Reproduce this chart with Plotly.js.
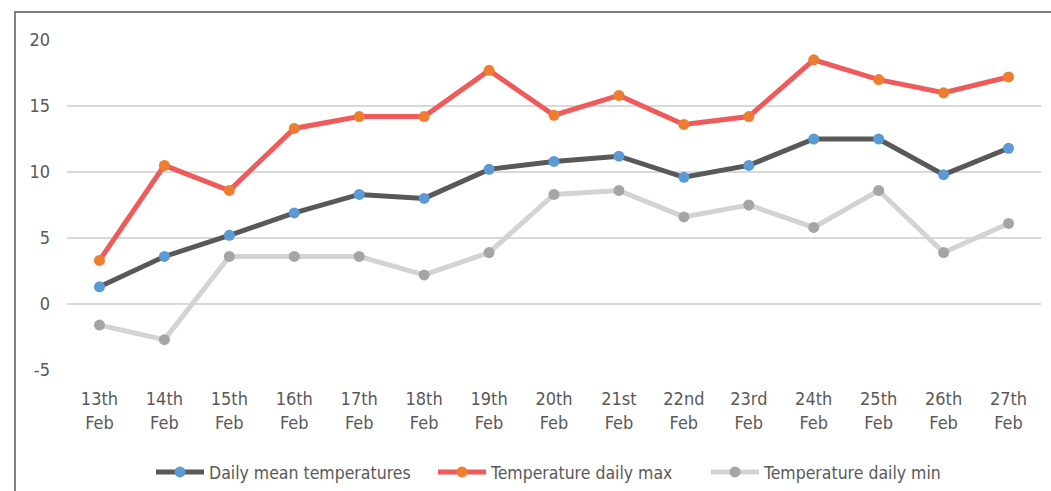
<!DOCTYPE html>
<html><head><meta charset="utf-8">
<script src="https://cdn.plot.ly/plotly-3.0.1.min.js"></script>
<style>
html,body{margin:0;padding:0;overflow:hidden;background:#fff;}
#frame{position:absolute;left:14px;top:11px;width:1200px;height:700px;border:2px solid #808080;box-sizing:border-box;}
#chart{position:absolute;left:0;top:0;width:1051px;height:491px;}
#chart text{font-stretch:condensed !important;}
</style></head>
<body>
<div id="frame"></div>
<div id="chart"></div>
<script>
const categories = ["13th<br>Feb","14th<br>Feb","15th<br>Feb","16th<br>Feb","17th<br>Feb","18th<br>Feb","19th<br>Feb","20th<br>Feb","21st<br>Feb","22nd<br>Feb","23rd<br>Feb","24th<br>Feb","25th<br>Feb","26th<br>Feb","27th<br>Feb"];
const meanTemps = [1.3, 3.6, 5.2, 6.9, 8.3, 8.0, 10.2, 10.8, 11.2, 9.6, 10.5, 12.5, 12.5, 9.8, 11.8];
const maxTemps  = [3.3, 10.5, 8.6, 13.3, 14.2, 14.2, 17.7, 14.3, 15.8, 13.6, 14.2, 18.5, 17.0, 16.0, 17.2];
const minTemps  = [-1.6, -2.7, 3.6, 3.6, 3.6, 2.2, 3.9, 8.3, 8.6, 6.6, 7.5, 5.8, 8.6, 3.9, 6.1];
const yTicks = [-5, 0, 5, 10, 15, 20];
const yTickLabels = ["-5", "0", "5", "10", "15", "20"];

const FONT = '"DejaVu Sans", sans-serif';
const FS = 18;
function tr(name, y, lc, mc, lg){
  return {type:'scatter', mode:'lines+markers', name:name, x:categories, y:y, legend:lg,
    line:{color:lc, width:5}, marker:{color:mc, size:11}};
}
const data = [
  tr('Daily mean temperatures', meanTemps, '#595959', '#5b9bd5', 'legend'),
  tr('Temperature daily max', maxTemps, '#ef5a5a', '#ed7d31', 'legend2'),
  tr('Temperature daily min', minTemps, '#d3d3d3', '#a5a5a5', 'legend3')
];
function lg(px){
  return {orientation:'h', x:px/1051, xref:'container', xanchor:'left', yref:'container', y:19/491, yanchor:'middle',
    font:{family:FONT, size:17.5, color:'#595959'}, itemwidth:48, bgcolor:'rgba(0,0,0,0)'};
}
const layout = {
  width:1051, height:491,
  margin:{l:67, r:10, t:40, b:121, autoexpand:false},
  paper_bgcolor:'rgba(0,0,0,0)', plot_bgcolor:'rgba(0,0,0,0)',
  font:{family:FONT, size:FS, color:'#595959'},
  showlegend:true,
  legend:lg(151), legend2:lg(433), legend3:lg(706),
  xaxis:{type:'category', range:[-0.5,14.5], showgrid:false, zeroline:false, showline:false,
    ticks:'', automargin:false, ticklabelstandoff:16, tickfont:{family:FONT, size:FS, color:'#595959'}},
  yaxis:{range:[-5,20], tickvals:yTicks, ticktext:yTickLabels, showgrid:true, gridcolor:'#d9d9d9', gridwidth:1.5,
    zeroline:false, showline:false, ticks:'', ticklabelstandoff:16, automargin:false,
    tickfont:{family:FONT, size:FS, color:'#595959'}}
};
const gd = document.getElementById('chart');
Plotly.newPlot(gd, data, layout, {displayModeBar:false, staticPlot:true}).then(function(){
  gd.querySelectorAll('.xtick text tspan.line').forEach(function(t){
    if (t.getAttribute('dy') && t.getAttribute('dy') !== '0em') t.setAttribute('dy', '1.35em');
  });
});
</script>
</body></html>
